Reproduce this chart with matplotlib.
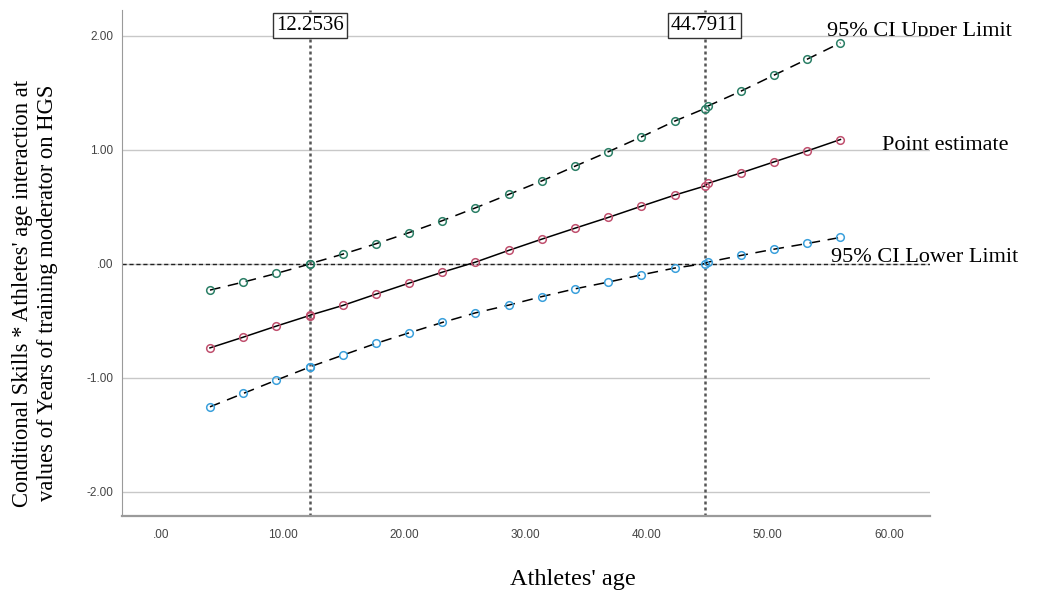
import matplotlib
matplotlib.use("Agg")
import matplotlib.pyplot as plt
from matplotlib.transforms import Bbox, TransformedBbox, blended_transform_factory

# Johnson-Neyman output: moderator values (athletes' age) and conditional effect
ages = [4.00, 6.74, 9.47, 12.21, 12.2536, 14.95, 17.68, 20.42, 23.16, 25.89, 28.63,
        31.37, 34.11, 36.84, 39.58, 42.32, 44.7911, 45.05, 47.79, 50.53, 53.26, 56.00]
point_est = [-0.739, -0.645, -0.548, -0.455, -0.452, -0.367, -0.268, -0.171, -0.075, 0.013, 0.116,
             0.215, 0.311, 0.405, 0.504, 0.601, 0.680, 0.704, 0.796, 0.893, 0.989, 1.089]
ci_upper = [-0.232, -0.162, -0.086, -0.004, 0.000, 0.083, 0.174, 0.272, 0.377, 0.489, 0.607,
            0.726, 0.855, 0.981, 1.112, 1.250, 1.360, 1.382, 1.513, 1.654, 1.794, 1.937]
ci_lower = [-1.256, -1.139, -1.022, -0.908, -0.905, -0.803, -0.700, -0.607, -0.516, -0.432, -0.364,
            -0.289, -0.221, -0.162, -0.098, -0.039, 0.000, 0.013, 0.072, 0.127, 0.177, 0.230]

jn_points = [12.2536, 44.7911]
jn_labels = ["12.2536", "44.7911"]

x_ticks = [0, 10, 20, 30, 40, 50, 60]
x_ticklabels = [".00", "10.00", "20.00", "30.00", "40.00", "50.00", "60.00"]
y_ticks = [-2, -1, 0, 1, 2]
y_ticklabels = ["-2.00", "-1.00", ".00", "1.00", "2.00"]

serif = "Liberation Serif"
sans = "Liberation Sans"

fig = plt.figure(figsize=(10.37, 5.96), dpi=100)
ax = fig.add_axes([0.1176, 0.134, 0.7794, 0.849])

ax.set_xlim(-3.26, 63.4)
ax.set_ylim(-2.215, 2.224)

# gridlines only on y
for yt in y_ticks:
    ax.axhline(yt, color="#c8c8c8", lw=1.0, zorder=0)

# reference lines
ax.axhline(0, color="#222222", lw=1.0, ls=(0, (3, 2)), zorder=1)
for xv in jn_points:
    ax.axvline(xv, color="#555555", lw=1.8, ls=(0, (1.2, 1.2)), zorder=1)

# series: black lines with hollow coloured circles on top
ax.plot(ages, ci_upper, color="black", lw=1.1, ls=(0, (7, 5)), zorder=2)
ax.plot(ages, ci_upper, ls="none", marker="o", ms=5.5, mfc="none", mec="#2b7f66", mew=1.1, zorder=3)
ax.plot(ages, point_est, color="black", lw=1.1, zorder=2)
ax.plot(ages, point_est, ls="none", marker="o", ms=5.5, mfc="none", mec="#c0506e", mew=1.1, zorder=3)
ax.plot(ages, ci_lower, color="black", lw=1.1, ls=(0, (7, 5)), zorder=2)
ax.plot(ages, ci_lower, ls="none", marker="o", ms=5.5, mfc="none", mec="#3aa0dc", mew=1.1, zorder=3)

# JN value boxes
for xv, lab in zip(jn_points, jn_labels):
    ax.text(xv, 2.09, lab, ha="center", va="center", fontsize=15, family=serif,
            bbox=dict(boxstyle="square,pad=0.14", fc="white", ec="#333333", lw=1.0), zorder=5)

# series labels (upper one is cut by the 2.00 gridline in the original)
t_up = ax.text(54.9, 1.995, "95% CI Upper Limit", ha="left", va="baseline", fontsize=16,
               family=serif, zorder=5)
trans = blended_transform_factory(fig.transFigure, ax.transData)
t_up.set_clip_box(TransformedBbox(Bbox([[0, 2.0], [1, 3.0]]), trans))
t_up.set_clip_on(True)
ax.text(59.4, 1.0, "Point estimate", ha="left", va="baseline", fontsize=16,
        family=serif, clip_on=False, zorder=5)
ax.text(55.2, 0.016, "95% CI Lower Limit", ha="left", va="baseline", fontsize=16,
        family=serif, clip_on=False, zorder=5)

ax.set_xticks(x_ticks)
ax.set_xticklabels(x_ticklabels, family=sans, fontsize=8.5, color="#444444")
ax.set_yticks(y_ticks)
ax.set_yticklabels(y_ticklabels, family=sans, fontsize=8.5, color="#444444")
ax.tick_params(axis="x", length=0, pad=9)
ax.tick_params(axis="y", length=0, pad=6)

for side in ["top", "right"]:
    ax.spines[side].set_visible(False)
ax.spines["left"].set_color("#9a9a9a")
ax.spines["bottom"].set_color("#9a9a9a")
ax.spines["bottom"].set_linewidth(1.6)

fig.text(0.552, 0.027, "Athletes' age", ha="center", va="center", fontsize=17.5, family=serif)
fig.text(0.0335, 0.508, "Conditional Skills * Athletes' age interaction at\n"
         "values of Years of training moderator on HGS",
         rotation=90, ha="center", va="center", fontsize=16.3, family=serif,
         linespacing=1.25, multialignment="center")

fig.savefig("out.png", dpi=100)
